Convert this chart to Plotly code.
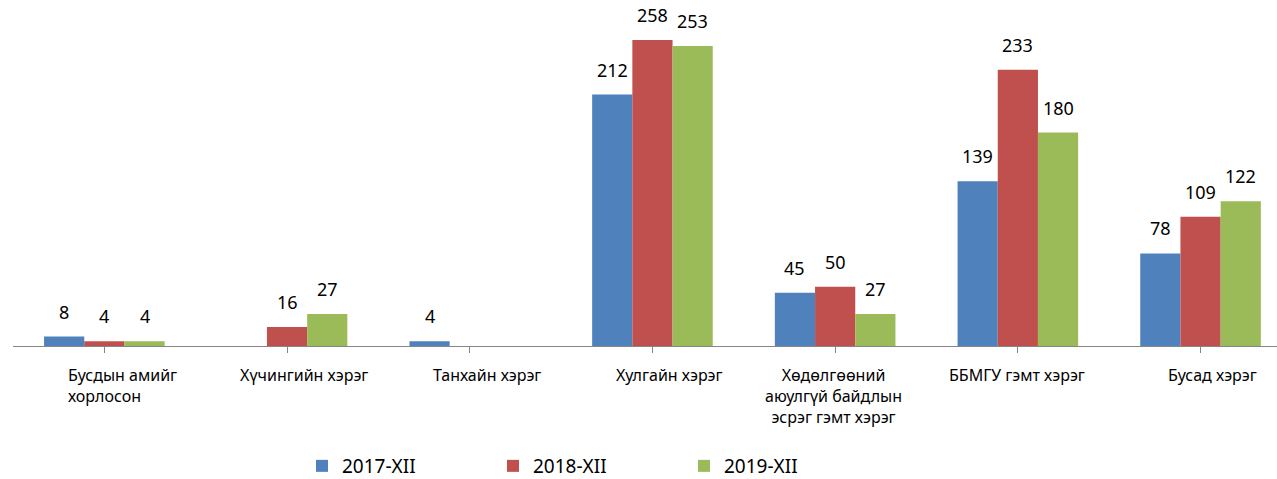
import plotly.graph_objects as go

categories = [
    "Бусдын амийг<br>хорлосон",
    "Хүчингийн хэрэг",
    "Танхайн хэрэг",
    "Хулгайн хэрэг",
    "Хөдөлгөөний<br>аюулгүй байдлын<br>эсрэг гэмт хэрэг",
    "ББМГУ гэмт хэрэг",
    "Бусад хэрэг",
]
series_names = ["2017-XII", "2018-XII", "2019-XII"]
values_2017 = [8, None, 4, 212, 45, 139, 78]
values_2018 = [4, 16, None, 258, 50, 233, 109]
values_2019 = [4, 27, None, 253, 27, 180, 122]
colors = ["#4F81BD", "#C0504D", "#9BBB59"]

# style: label horizontal nudges (px) and alignment
label_shift = [18, 17, 17, 17, -2, -1, 12]
label_align = ["left", "center", "center", "center", "center", "center", "center"]

FONT = "Noto Sans"
W, H = 1277, 479
ML, MR, MT, MB = 13, 0, 10, 133
cat_px = 182.7
plot_w = W - ML - MR
x_range = [-0.5, -0.5 + plot_w / cat_px]
plot_h = H - MT - MB
y_max = plot_h / 1.186

idx = list(range(len(categories)))
all_series = [values_2017, values_2018, values_2019]

fig = go.Figure()
for name, vals, col in zip(series_names, all_series, colors):
    fig.add_trace(go.Bar(
        x=idx, y=vals, name=name, marker_color=col, marker_line_width=0,
    ))

bargap = 0.34
bar_px = cat_px * (1 - bargap) / 3
annotations = []
for s, vals in enumerate(all_series):
    for i, v in enumerate(vals):
        if v is None:
            continue
        annotations.append(dict(
            x=i, y=v, xref="x", yref="y", text=str(v), showarrow=False,
            xshift=(s - 1) * bar_px, yshift=25, yanchor="middle",
            font=dict(family=FONT, size=18, color="#000000"),
        ))
for i, c in enumerate(categories):
    annotations.append(dict(
        x=i, y=0, xref="x", yref="paper", text=c, showarrow=False,
        xshift=label_shift[i], yshift=-16, yanchor="top", xanchor="center",
        align=label_align[i],
        font=dict(family=FONT, size=16, color="#000000"),
    ))

legend_center_y = 466
fig.update_layout(
    width=W, height=H,
    margin=dict(l=ML, r=MR, t=MT, b=MB),
    paper_bgcolor="white", plot_bgcolor="white",
    barmode="group", bargap=bargap, bargroupgap=0,
    showlegend=True,
    legend=dict(
        orientation="h", xref="container", yref="container",
        x=302 / W, xanchor="left", y=(H - legend_center_y) / H, yanchor="middle",
        entrywidth=146, font=dict(family=FONT, size=19, color="#000000"),
        traceorder="normal",
    ),
    annotations=annotations,
    xaxis=dict(
        range=x_range, tickmode="array", tickvals=idx, ticktext=[""] * len(idx),
        tickson="boundaries", ticks="outside", ticklen=6, tickcolor="#868686",
        showline=True, linecolor="#868686", linewidth=1, showgrid=False,
        zeroline=False, fixedrange=True,
    ),
    yaxis=dict(
        range=[0, y_max], visible=False, showgrid=False, zeroline=False,
    ),
)

fig.write_html(
    "out.html",
    config={"displayModeBar": False},
    post_script="document.body.style.margin='0';",
)
